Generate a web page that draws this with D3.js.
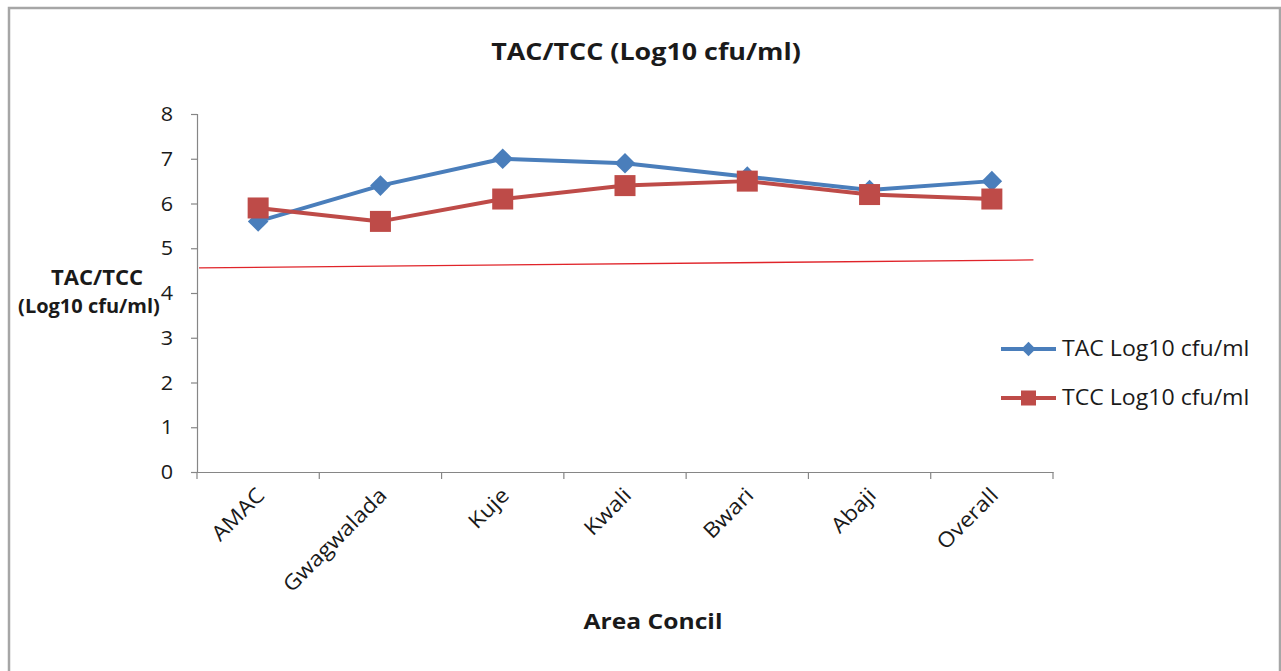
<!DOCTYPE html>
<html>
<head>
<meta charset="utf-8">
<script src="https://cdn.jsdelivr.net/npm/d3@7"></script>
<style>
  html, body { margin: 0; padding: 0; background: #fff; }
  svg { display: block; }
  text { font-family: "Open Sans", Lato, "Liberation Sans", sans-serif; fill: #1a1a1a; }
</style>
</head>
<body>
<svg id="chart" width="1281" height="671"></svg>
<script>
// ---- data ----
const categories = ["AMAC", "Gwagwalada", "Kuje", "Kwali", "Bwari", "Abaji", "Overall"];
const tacValues = [5.6, 6.4, 7.0, 6.9, 6.6, 6.3, 6.5];
const tccValues = [5.9, 5.6, 6.1, 6.4, 6.5, 6.2, 6.1];
const seriesNames = ["TAC Log10 cfu/ml", "TCC Log10 cfu/ml"];
const yTicks = [0, 1, 2, 3, 4, 5, 6, 7, 8];
const refLineValues = [4.56, 4.74];   // thin red line drawn over the chart
const titleText = "TAC/TCC (Log10 cfu/ml)";
const yTitleLines = ["TAC/TCC", "(Log10 cfu/ml)"];
const xTitleText = "Area Concil";

// ---- layout ----
const svg = d3.select("#chart");
const W = 1281, H = 671;
const plot = { left: 197, right: 1053, top: 114, bottom: 472 };
const blue = "#4a7ebb", red = "#be4b48";

// frame
svg.append("path")
  .attr("d", `M9,${H + 5} V8 H1280 V${H + 5}`)
  .attr("fill", "none").attr("stroke", "#a6a6a6").attr("stroke-width", 2.5);

const x = d3.scaleBand().domain(categories).range([plot.left, plot.right]).padding(0);
const y = d3.scaleLinear().domain([0, 8]).range([plot.bottom, plot.top]);
const cx = d => x(d) + x.bandwidth() / 2;

// helper: horizontally stretched text
function sText(parent, tx, ty, str, opts) {
  const st = opts.stretch || 1.1;
  const g = parent.append("g").attr("transform", `translate(${tx},${ty}) ${opts.rotate ? `rotate(${opts.rotate})` : ""} scale(${st},1)`);
  const t = g.append("text").attr("x", 0).attr("y", 0)
    .attr("text-anchor", opts.anchor || "middle")
    .attr("font-size", opts.size)
    .attr("font-weight", opts.bold ? "bold" : "normal")
    .text(str);
  if (opts.dy) t.attr("dy", opts.dy);
  return t;
}

// y axis
const yAxis = svg.append("g").attr("transform", `translate(${plot.left},0)`)
  .call(d3.axisLeft(y).tickValues(yTicks).tickSize(6).tickFormat(""));
yAxis.select(".domain").attr("stroke", "#868686").attr("stroke-width", 1.2);
yAxis.selectAll(".tick line").attr("stroke", "#868686").attr("stroke-width", 1.2);
const yLab = svg.append("g");
yTicks.forEach(v => sText(yLab, 173, y(v), d3.format("d")(v), { anchor: "end", size: 20, dy: "0.36em", stretch: 1.08 }));

// x axis
const xAxis = svg.append("g").attr("transform", `translate(0,${plot.bottom})`)
  .call(d3.axisBottom(x).tickSize(0).tickFormat(""));
xAxis.select(".domain").attr("stroke", "#868686").attr("stroke-width", 1.2);
xAxis.selectAll(".tick").remove();
// boundary ticks between categories
const bounds = categories.map(c => x(c)).concat([x(categories[categories.length - 1]) + x.bandwidth()]);
svg.append("g").selectAll("line").data(bounds).join("line")
  .attr("x1", d => d).attr("x2", d => d)
  .attr("y1", plot.bottom).attr("y2", plot.bottom + 7)
  .attr("stroke", "#868686").attr("stroke-width", 1.2);
// rotated category labels
const xLab = svg.append("g");
categories.forEach(c => sText(xLab, cx(c) - 3, plot.bottom + 14, c, { anchor: "end", size: 21, dy: "0.72em", rotate: -45, stretch: 1.1 }));

// red reference line
svg.append("line")
  .attr("x1", plot.left + 2).attr("y1", y(refLineValues[0]))
  .attr("x2", x("Overall") + x.bandwidth() * 0.84).attr("y2", y(refLineValues[1]))
  .attr("stroke", "#e0242a").attr("stroke-width", 1.3);

// series lines
const line = d3.line().x((d, i) => cx(categories[i])).y(d => y(d));
svg.append("path").datum(tacValues).attr("d", line)
  .attr("fill", "none").attr("stroke", blue).attr("stroke-width", 4).attr("stroke-linejoin", "round");
svg.append("path").datum(tccValues).attr("d", line)
  .attr("fill", "none").attr("stroke", red).attr("stroke-width", 4).attr("stroke-linejoin", "round");

// markers
const diamond = d3.symbol().type(d3.symbolDiamond2).size(270);
svg.append("g").selectAll("path").data(tacValues).join("path")
  .attr("d", diamond)
  .attr("transform", (d, i) => `translate(${cx(categories[i])},${y(d)})`)
  .attr("fill", blue);
svg.append("g").selectAll("rect").data(tccValues).join("rect")
  .attr("x", (d, i) => cx(categories[i]) - 10.5).attr("y", d => y(d) - 10.5)
  .attr("width", 21).attr("height", 21)
  .attr("fill", red);

// title
sText(svg, 646, 60, titleText, { size: 24, bold: true, stretch: 1.12 });

// y title
sText(svg, 97, 285, yTitleLines[0], { size: 21, bold: true, stretch: 1.05 });
sText(svg, 89, 313, yTitleLines[1], { size: 20, bold: true, stretch: 1.0 });

// x title
sText(svg, 653, 629, xTitleText, { size: 22, bold: true, stretch: 1.12 });

// legend
const legend = svg.append("g");
const legY = [349, 398];
seriesNames.forEach((name, i) => {
  const col = i === 0 ? blue : red;
  const g = legend.append("g").attr("transform", `translate(1001,${legY[i]})`);
  g.append("line").attr("x1", 0).attr("x2", 55).attr("y1", 0).attr("y2", 0)
    .attr("stroke", col).attr("stroke-width", 4);
  if (i === 0) {
    g.append("path").attr("d", d3.symbol().type(d3.symbolDiamond2).size(130))
      .attr("transform", "translate(27.5,0)").attr("fill", col);
  } else {
    g.append("rect").attr("x", 27.5 - 7.5).attr("y", -7.5).attr("width", 15).attr("height", 15).attr("fill", col);
  }
  sText(g, 61, 0, name, { anchor: "start", size: 21, dy: "0.35em", stretch: 1.1 });
});
</script>
</body>
</html>
